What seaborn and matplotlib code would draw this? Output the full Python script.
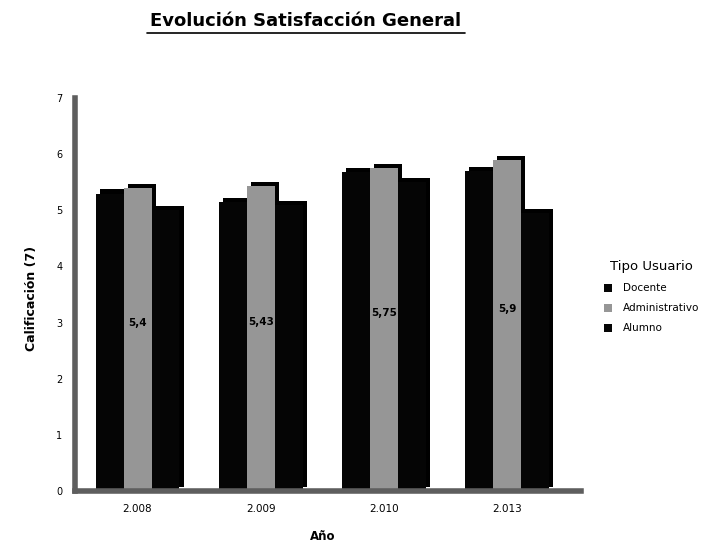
import pandas as pd
import matplotlib.pyplot as plt
import matplotlib.patheffects as pe
from matplotlib.lines import Line2D
import seaborn as sns

# Data
years = ['2.008', '2.009', '2.010', '2.013']
docente = [5.3, 5.15, 5.68, 5.7]
administrativo = [5.4, 5.43, 5.75, 5.9]
alumno = [5.0, 5.1, 5.5, 4.95]
admin_labels = ['5,4', '5,43', '5,75', '5,9']
user_types = ['Docente', 'Administrativo', 'Alumno']

df = pd.DataFrame({
    'Año': years * 3,
    'Calificación': docente + administrativo + alumno,
    'Tipo Usuario': [t for t in user_types for _ in years],
})

sns.set_style('white')
plt.rcParams['font.family'] = ['DejaVu Sans']
plt.rcParams.update({'text.color': 'black', 'axes.labelcolor': 'black',
                     'xtick.color': 'black', 'ytick.color': 'black'})

fig = plt.figure(figsize=(7.05, 5.48), dpi=100)
ax = fig.add_axes([0.106, 0.104, 0.718, 0.717])

sns.barplot(data=df, x='Año', y='Calificación', hue='Tipo Usuario',
            palette=['#050505', '#969696', '#050505'], saturation=1,
            width=0.68, linewidth=0, ax=ax)

# fake 3D depth
shadow = [pe.SimplePatchShadow(offset=(3, 3), shadow_rgbFace='black', alpha=1), pe.Normal()]
for cont in ax.containers:
    for bar in cont:
        bar.set_path_effects(shadow)

ax.bar_label(ax.containers[1], labels=admin_labels, label_type='center',
             padding=12, fontsize=7.5, fontweight='bold', color='black')

ax.set_ylim(0, 7)
ax.set_xlim(-0.51, 3.6)
ax.set_yticks(range(0, 8))
ax.tick_params(axis='both', length=0, pad=9)
ax.tick_params(axis='x', labelsize=7.5)
ax.tick_params(axis='y', labelsize=7)

for side in ['top', 'right']:
    ax.spines[side].set_visible(False)
for side in ['left', 'bottom']:
    ax.spines[side].set_color('#5e5e5e')
    ax.spines[side].set_linewidth(4)

ax.set_xlabel('Año', fontsize=8.5, fontweight='bold')
ax.set_ylabel('Calificación (7)', fontsize=9, fontweight='bold')
ax.xaxis.set_label_coords(0.49, -0.1)
ax.yaxis.set_label_coords(-0.072, 0.49)

leg = ax.legend(title='Tipo Usuario', loc='upper left', bbox_to_anchor=(1.035, 0.6),
                frameon=False, fontsize=7.5, title_fontsize=9.5, borderpad=0,
                handlelength=0.8, handleheight=0.8, handletextpad=1.0, labelspacing=0.95)

fig.text(0.434, 0.962, 'Evolución Satisfacción General', ha='center', va='center',
         fontsize=13, fontweight='bold')
fig.add_artist(Line2D([0.209, 0.66], [0.94, 0.94], color='black', lw=1.2))

plt.savefig('out.png', dpi=100)
